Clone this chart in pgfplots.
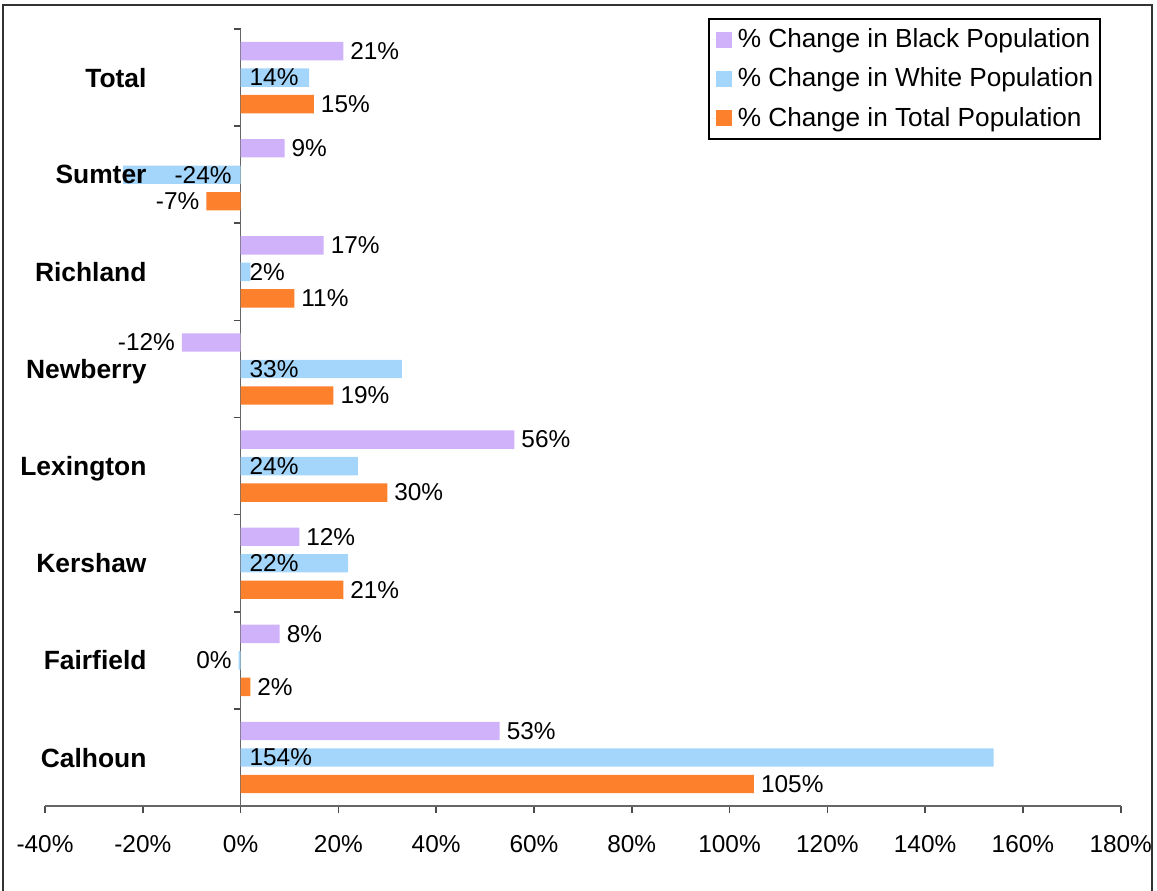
\documentclass[border=0pt]{standalone}
\usepackage{pgfplots}
\pgfplotsset{compat=1.18}
\usepackage{fontspec}
\setmainfont{Liberation Sans}
\definecolor{blackpop}{RGB}{208,178,250}
\definecolor{whitepop}{RGB}{164,213,250}
\definecolor{totalpop}{RGB}{253,128,45}
\begin{document}
\begin{tikzpicture}
\useasboundingbox (0pt,0pt) rectangle (578.5pt,-445pt);
% chart frame, its bottom edge lies below the picture
\draw[black!80, line width=0.8pt] (1.5pt,-446pt) -- (1.5pt,-2.5pt) -- (576pt,-2.5pt) -- (576pt,-446pt);
\begin{axis}[
  at={(22.5pt,-403pt)}, anchor=south west,
  scale only axis, width=537.85pt, height=388.5pt,
  xmin=-40, xmax=180, ymin=-0.5, ymax=7.5,
  clip=false,
  axis x line*=bottom, axis y line*=center,
  axis line style={black!60, line width=0.8pt},
  /pgf/number format/assume math mode=true,
  xtick={-40,-20,...,180},
  xticklabel={\pgfmathprintnumber{\tick}\%},
  ytick={-0.5,0.5,...,7.5}, yticklabels={},
  tick align=outside, major tick length=3.5pt,
  tick style={black!70, line width=0.8pt},
  x tick label style={font=\fontsize{12.2}{14}\selectfont, yshift=-7.5pt},
  xbar, bar width=9.2pt,
  point meta=x,
  nodes near coords={\pgfmathprintnumber{\pgfplotspointmeta}\%},
  every node near coord/.append style={font=\fontsize{12.2}{14}\selectfont, text=black},
  legend style={at={(0.6164,1.0142)}, anchor=north west, draw=black,
    line width=0.8pt, font=\fontsize{13.1}{15}\selectfont,
    row sep=4.6pt, inner xsep=1.5pt, inner ysep=3pt},
  legend cell align=left,
  legend image code/.code={\fill[#1, draw=none] (2pt,-4pt) rectangle (10pt,4pt);
    \path (0pt,0pt) -- (11pt,0pt);},
]
% rows: 0 Calhoun ... 7 Total
\addplot[fill=blackpop, draw=none, bar shift=13.25pt] coordinates {
  (53,0) (8,1) (12,2) (56,3) (-12,4) (17,5) (9,6) (21,7)};
\addlegendentry{\% Change in Black Population}
% white series: labels sit at the base of the bar (x = 0)
\addplot[fill=whitepop, draw=none, bar shift=0pt, point meta=explicit,
  visualization depends on={rawx \as \rawx},
  every node near coord/.append style={anchor=west, xshift={-(\rawx)*2.445pt+1pt}}] coordinates {
  (154,0) [154] (22,2) [22] (24,3) [24] (33,4) [33] (2,5) [2] (14,7) [14]};
\addlegendentry{\% Change in White Population}
\addplot[fill=whitepop, draw=none, bar shift=0pt, point meta=explicit, forget plot,
  visualization depends on={rawx \as \rawx},
  every node near coord/.append style={anchor=east, xshift={-(\rawx)*2.445pt-1pt}}] coordinates {
  (-0.4,1) [0] (-24,6) [-24]};
\addplot[fill=totalpop, draw=none, bar shift=-13.25pt] coordinates {
  (105,0) (2,1) (21,2) (30,3) (19,4) (11,5) (-7,6) (15,7)};
\addlegendentry{\% Change in Total Population}
\begin{scope}[every node/.style={anchor=east, text depth=0pt,
    font=\bfseries\fontsize{13.2}{15}\selectfont}]
\node at (axis cs:-17.8,7) {Total};
\node at (axis cs:-17.8,6) {Sumter};
\node at (axis cs:-17.8,5) {Richland};
\node at (axis cs:-17.8,4) {Newberry};
\node at (axis cs:-17.8,3) {Lexington};
\node at (axis cs:-17.8,2) {Kershaw};
\node at (axis cs:-17.8,1) {Fairfield};
\node at (axis cs:-17.8,0) {Calhoun};
\end{scope}
\end{axis}
\end{tikzpicture}
\end{document}
